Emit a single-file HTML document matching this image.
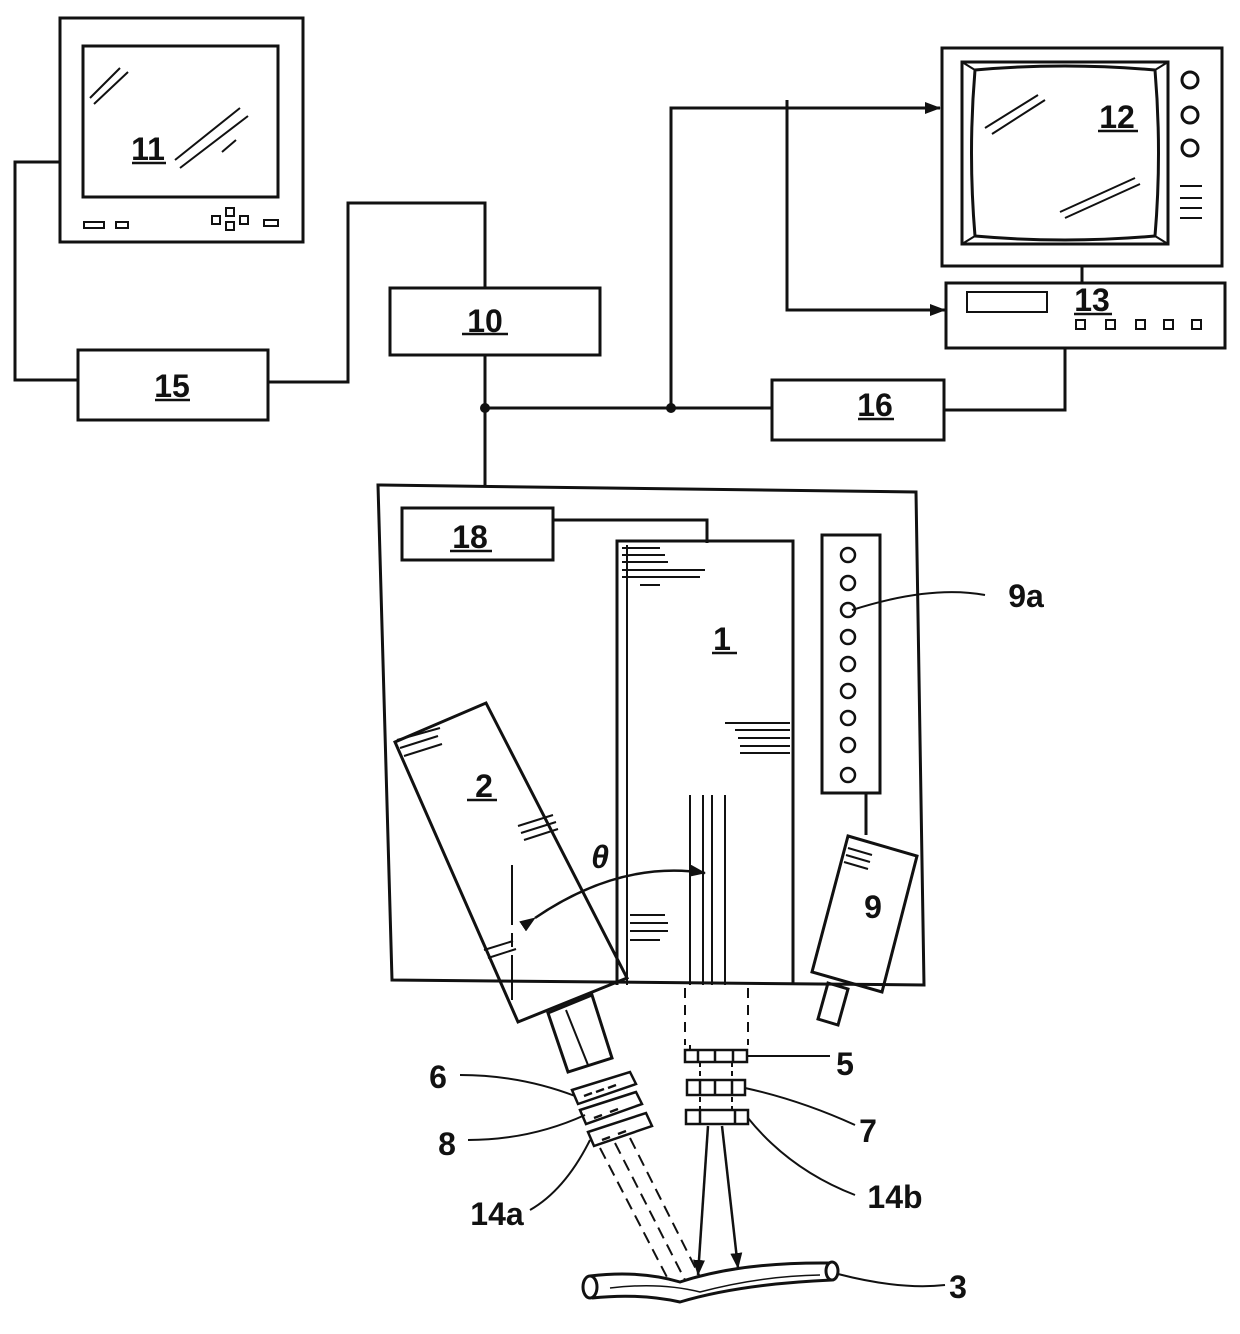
<!DOCTYPE html>
<html><head><meta charset="utf-8"><style>body{margin:0;background:#fff}svg{display:block}text{font-family:"Liberation Sans",Arial,sans-serif;font-weight:bold;fill:#111}</style></head><body>
<svg width="1240" height="1334" viewBox="0 0 1240 1334" xmlns="http://www.w3.org/2000/svg">
<defs><marker id="a" markerWidth="16" markerHeight="12" refX="15" refY="6" orient="auto" markerUnits="userSpaceOnUse"><path d="M0,0 L16,6 L0,12 Z" fill="#111"/></marker></defs>
<g fill="none" stroke="#111" stroke-width="3">
<rect x="60" y="18" width="243" height="224"/>
<rect x="83" y="46" width="195" height="151"/>
<path d="M90 98 L120 68 M94 104 L128 72 M175 160 L240 108 M180 168 L248 116 M222 152 L236 140" stroke-width="2"/>
<rect x="84" y="222" width="20" height="6" stroke-width="2"/><rect x="116" y="222" width="12" height="6" stroke-width="2"/>
<rect x="212" y="216" width="8" height="8" stroke-width="2"/><rect x="226" y="208" width="8" height="8" stroke-width="2"/><rect x="226" y="222" width="8" height="8" stroke-width="2"/><rect x="240" y="216" width="8" height="8" stroke-width="2"/><rect x="264" y="220" width="14" height="6" stroke-width="2"/>
<path d="M60 162 H15 V380 H78"/>
<rect x="78" y="350" width="190" height="70"/>
<path d="M268 382 H348 V203 H485 V288"/>
<rect x="390" y="288" width="210" height="67"/>
<path d="M485 355 V487"/>
<path d="M485 408 H772"/>
<rect x="772" y="380" width="172" height="60"/>
<path d="M944 410 H1065 V348"/>
<path d="M671 408 V108 H940" marker-end="url(#a)"/>
<path d="M787 100 V310 H945" marker-end="url(#a)"/>
<rect x="942" y="48" width="280" height="218"/>
<path d="M962 62 H1168 V244 H962 Z"/>
<path d="M975 70 Q1065 62 1155 70 Q1162 153 1155 236 Q1065 244 975 236 Q968 153 975 70 Z"/>
<path d="M962 62 L975 70 M1168 62 L1155 70 M1168 244 L1155 236 M962 244 L975 236" stroke-width="2"/>
<path d="M985 128 L1038 95 M992 134 L1045 100 M1060 212 L1135 178 M1065 218 L1140 184" stroke-width="2"/>
<circle cx="1190" cy="80" r="8"/><circle cx="1190" cy="115" r="8"/><circle cx="1190" cy="148" r="8"/>
<path d="M1180 186 H1202 M1180 198 H1202 M1180 208 H1202 M1180 218 H1202" stroke-width="2"/>
<path d="M1082 266 V283"/>
<rect x="946" y="283" width="279" height="65"/>
<rect x="967" y="292" width="80" height="20" stroke-width="2"/>
<g stroke-width="2"><rect x="1076" y="320" width="9" height="9"/><rect x="1106" y="320" width="9" height="9"/><rect x="1136" y="320" width="9" height="9"/><rect x="1164" y="320" width="9" height="9"/><rect x="1192" y="320" width="9" height="9"/></g>
<path d="M378 485 L916 492 L924 985 L392 980 Z"/>
<rect x="402" y="508" width="151" height="52"/>
<path d="M553 520 H707 V543"/>
<path d="M617 985 V541 H793 V983"/>
<path d="M627 985 V545" stroke-width="2"/>
<path d="M622 548 H660 M622 555 H665 M622 562 H668 M622 570 H705 M622 577 H700 M640 585 H660 M725 723 H790 M735 730 H790 M738 738 H790 M740 746 H790 M740 753 H790 M630 915 H665 M630 923 H668 M630 931 H668 M630 940 H660" stroke-width="2"/>
<rect x="822" y="535" width="58" height="258"/>
<g stroke-width="2.5"><circle cx="848" cy="555" r="7"/><circle cx="848" cy="583" r="7"/><circle cx="848" cy="610" r="7"/><circle cx="848" cy="637" r="7"/><circle cx="848" cy="664" r="7"/><circle cx="848" cy="691" r="7"/><circle cx="848" cy="718" r="7"/><circle cx="848" cy="745" r="7"/><circle cx="848" cy="775" r="7"/></g>
<path d="M852 610 Q930 585 985 595" stroke-width="2"/>
<path d="M866 793 V835"/>
<path d="M848 836 L917 856 L882 992 L812 972 Z"/>
<path d="M828 983 L848 989 L838 1025 L818 1019 Z"/>
<path d="M848 848 L872 855 M846 855 L870 862 M844 862 L868 869" stroke-width="2"/>
<path d="M395 742 L486 703 L627 978 L518 1022 Z"/>
<path d="M397 740 L440 728 M400 748 L438 736 M404 756 L442 744 M518 826 L553 815 M521 833 L556 822 M524 840 L558 829 M484 950 L513 941 M488 958 L516 949" stroke-width="2"/>
<path d="M548 1013 L592 995 L612 1058 L568 1072 Z"/>
<path d="M566 1010 L588 1065" stroke-width="2"/>
<path d="M512 865 V1000" stroke-dasharray="60,8,14,8" stroke-width="2"/>
<path d="M535 918 Q620 860 705 873" marker-start="url(#a)" marker-end="url(#a)" stroke-width="2.5"/>
<g stroke-width="2.5">
<path d="M572 1090 L630 1072 L636 1084 L578 1104 Z"/>
<path d="M580 1110 L636 1092 L642 1104 L586 1124 Z"/>
<path d="M588 1132 L646 1113 L652 1126 L594 1146 Z"/>
<path d="M584 1096 L592 1093 M596 1092 L604 1089 M608 1088 L616 1085 M594 1118 L602 1115 M610 1112 L618 1109 M602 1140 L610 1137 M618 1134 L626 1131"/>
</g>
<path d="M600 1148 L670 1283 M615 1143 L685 1280 M630 1138 L700 1277" stroke-dasharray="12,7" stroke-width="2"/>
<path d="M690 795 V985 M703 795 V985 M712 795 V985 M725 795 V985" stroke-width="2"/>
<path d="M685 988 V1045 M748 988 V1045" stroke-dasharray="10,7" stroke-width="2"/>
<path d="M690 1045 V1050 M700 1062 V1080 M700 1097 V1110 M732 1062 V1080 M732 1097 V1110" stroke-dasharray="5,4" stroke-width="2"/>
<g stroke-width="2.5">
<rect x="685" y="1050" width="62" height="12"/>
<rect x="687" y="1080" width="58" height="15"/>
<rect x="686" y="1110" width="62" height="14"/>
<path d="M698 1050 V1062 M715 1050 V1062 M733 1050 V1062 M700 1080 V1095 M715 1080 V1095 M732 1080 V1095 M700 1110 V1124 M735 1110 V1124"/>
</g>
<path d="M708 1126 L698 1275" marker-end="url(#a)" stroke-width="2.5"/>
<path d="M722 1126 L738 1268" marker-end="url(#a)" stroke-width="2.5"/>
<path d="M590 1276 Q640 1270 680 1282 Q740 1262 830 1263 M592 1298 Q640 1293 680 1302 Q740 1284 832 1280"/>
<ellipse cx="590" cy="1287" rx="7" ry="11"/><ellipse cx="832" cy="1271" rx="6" ry="9"/>
<path d="M610 1288 Q660 1282 700 1292 Q760 1276 820 1275" stroke-width="1.5"/>
<g stroke-width="2">
<path d="M838 1274 Q900 1290 945 1285"/>
<path d="M748 1056 H830"/>
<path d="M745 1088 Q800 1100 855 1125"/>
<path d="M748 1118 Q790 1170 855 1195"/>
<path d="M460 1075 Q520 1075 575 1096"/>
<path d="M468 1140 Q530 1140 585 1115"/>
<path d="M530 1210 Q565 1190 590 1140"/>
</g>
</g>
<circle cx="485" cy="408" r="5" fill="#111"/><circle cx="671" cy="408" r="5" fill="#111"/>
<g font-size="32" text-anchor="middle">
<text x="148" y="160">11</text><text x="172" y="397">15</text><text x="485" y="332">10</text><text x="1117" y="128">12</text><text x="1092" y="311">13</text><text x="875" y="416">16</text><text x="470" y="548">18</text><text x="722" y="650">1</text><text x="484" y="797">2</text><text x="873" y="918">9</text><text x="600" y="868" font-style="italic">θ</text>
<text x="1026" y="607">9a</text><text x="845" y="1075">5</text><text x="868" y="1142">7</text><text x="895" y="1208">14b</text><text x="438" y="1088">6</text><text x="447" y="1155">8</text><text x="497" y="1225">14a</text><text x="958" y="1298">3</text>
</g>
<g stroke="#111" stroke-width="2.5">
<path d="M132 163 H166 M462 334 H508 M155 400 H190 M1098 131 H1138 M1074 314 H1112 M858 419 H894 M450 551 H492 M712 653 H737 M467 800 H497"/>
</g>
</svg>
</body></html>
